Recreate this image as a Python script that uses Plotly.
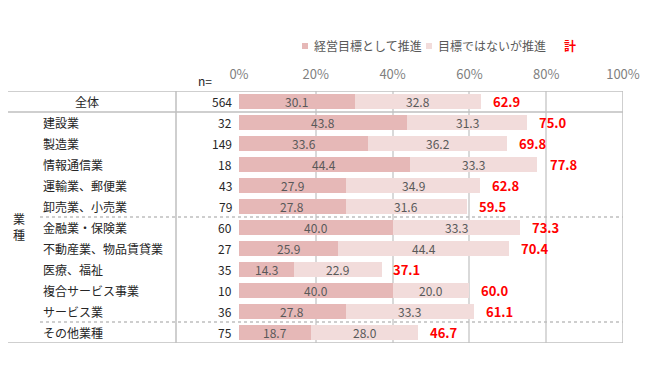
import plotly.graph_objects as go

categories = ["全体", "建設業", "製造業", "情報通信業", "運輸業、郵便業", "卸売業、小売業",
              "金融業・保険業", "不動産業、物品賃貸業", "医療、福祉", "複合サービス事業",
              "サービス業", "その他業種"]
n_values = [564, 32, 149, 18, 43, 79, 60, 27, 35, 10, 36, 75]
goal_values = [30.1, 43.8, 33.6, 44.4, 27.9, 27.8, 40.0, 25.9, 14.3, 40.0, 27.8, 18.7]
nongoal_values = [32.8, 31.3, 36.2, 33.3, 34.9, 31.6, 33.3, 44.4, 22.9, 20.0, 33.3, 28.0]
total_values = [62.9, 75.0, 69.8, 77.8, 62.8, 59.5, 73.3, 70.4, 37.1, 60.0, 61.1, 46.7]
x_ticks = [0, 20, 40, 60, 80, 100]
x_tick_labels = ["0%", "20%", "40%", "60%", "80%", "100%"]
series_names = ["経営目標として推進", "目標ではないが推進"]
total_name = "計"
group_label = "業<br>種"

# page body has an 8px margin: figure is sized to fit inside the window
OFF = 8
W, H = 650 - 2 * OFF, 380 - 2 * OFF
def px(x):
    return (x - OFF) / W
def py(y):
    return 1 - (y - OFF) / H

FONT = "Noto Sans CJK JP, Meiryo, sans-serif"
C_DARK = "#e6b8b7"
C_LIGHT = "#f2dcdb"
GRID = "#d9d9d9"
LINE = "#bfbfbf"
TXT = "#595959"
LBL = "#262626"

fig = go.Figure()
fig.add_trace(go.Bar(
    y=categories, x=goal_values, orientation="h", name=series_names[0],
    marker=dict(color=C_DARK, line=dict(width=0)), textposition="none",
))
fig.add_trace(go.Bar(
    y=categories, x=nongoal_values, orientation="h", name=series_names[1],
    marker=dict(color=C_LIGHT, line=dict(width=0)), textposition="none",
))

annotations = []
# segment labels
for c, g, ng in zip(categories, goal_values, nongoal_values):
    annotations.append(dict(x=g / 2, y=c, xref="x", yref="y", text=f"{g:.1f}", showarrow=False,
                            xanchor="center", font=dict(family=FONT, size=12, color=TXT)))
    annotations.append(dict(x=g + ng / 2, y=c, xref="x", yref="y", text=f"{ng:.1f}", showarrow=False,
                            xanchor="center", font=dict(family=FONT, size=12, color=TXT)))
# totals
for c, t in zip(categories, total_values):
    annotations.append(dict(x=t, y=c, xref="x", yref="y", text=f"<b>{t:.1f}</b>",
                            showarrow=False, xanchor="left", xshift=10,
                            font=dict(family=FONT, size=13, color="#ff0000")))
# row labels
for i, c in enumerate(categories):
    if i == 0:
        annotations.append(dict(x=px(87), y=c, xref="paper", yref="y", text=c, showarrow=False,
                                xanchor="center", font=dict(family=FONT, size=12, color=LBL)))
    else:
        annotations.append(dict(x=px(41), y=c, xref="paper", yref="y", text=c, showarrow=False,
                                xanchor="left", font=dict(family=FONT, size=12, color=LBL)))
# n values
for c, nv in zip(categories, n_values):
    annotations.append(dict(x=px(234), y=c, xref="paper", yref="y", text=str(nv), showarrow=False,
                            xanchor="right", font=dict(family=FONT, size=12, color=LBL)))
annotations.append(dict(x=px(214), y=py(81), xref="paper", yref="paper", text="n=", showarrow=False,
                        xanchor="right", yanchor="middle", font=dict(family=FONT, size=12, color=LBL)))
# group label
annotations.append(dict(x=px(19), y=py(226), xref="paper", yref="paper", text=group_label,
                        showarrow=False, xanchor="center", yanchor="middle",
                        font=dict(family=FONT, size=12, color=LBL)))
# legend
annotations.append(dict(x=px(312), y=py(46), xref="paper", yref="paper", text=series_names[0],
                        showarrow=False, xanchor="left", yanchor="middle",
                        font=dict(family=FONT, size=12, color=TXT)))
annotations.append(dict(x=px(436), y=py(46), xref="paper", yref="paper", text=series_names[1],
                        showarrow=False, xanchor="left", yanchor="middle",
                        font=dict(family=FONT, size=12, color=TXT)))
annotations.append(dict(x=px(562), y=py(46), xref="paper", yref="paper", text=f"<b>{total_name}</b>",
                        showarrow=False, xanchor="left", yanchor="middle",
                        font=dict(family=FONT, size=12, color="#ff0000")))

shapes = []
shapes.append(dict(type="rect", xref="paper", yref="paper", x0=px(302), x1=px(308), y0=py(49), y1=py(43),
                   fillcolor=C_DARK, line=dict(width=0)))
shapes.append(dict(type="rect", xref="paper", yref="paper", x0=px(426), x1=px(432), y0=py(49), y1=py(43),
                   fillcolor=C_LIGHT, line=dict(width=0)))
# horizontal table lines
for yv in [-0.5, 0.5, 11.5]:
    shapes.append(dict(type="line", xref="paper", yref="y", x0=px(0), x1=px(623), y0=yv, y1=yv,
                       line=dict(color=LINE, width=1.5)))
for yv in [5.5, 10.5]:
    shapes.append(dict(type="line", xref="paper", yref="y", x0=px(40), x1=px(623), y0=yv, y1=yv,
                       line=dict(color=LINE, width=1.5, dash="dot")))
# vertical lines
shapes.append(dict(type="line", xref="paper", yref="y", x0=px(176), x1=px(176), y0=-0.5, y1=11.5,
                   line=dict(color=LINE, width=1.5)))
shapes.append(dict(type="line", xref="x", yref="y", x0=100, x1=100, y0=-0.5, y1=11.5,
                   line=dict(color=LINE, width=1.5)))

fig.update_layout(
    width=W, height=H, margin=dict(l=0, r=0, t=0, b=0),
    paper_bgcolor="white", plot_bgcolor="white",
    barmode="stack", bargap=0.33, showlegend=False,
    font=dict(family=FONT),
    annotations=annotations, shapes=shapes,
    xaxis=dict(domain=[px(239), px(623)], range=[0, 100], side="top",
               tickvals=x_ticks, ticktext=x_tick_labels, showgrid=True, gridcolor=GRID, gridwidth=1.5,
               zeroline=False, showline=False, ticks="", ticklabelstandoff=8,
               tickfont=dict(family=FONT, size=13, color="#7f7f7f"), automargin=False),
    yaxis=dict(domain=[py(343), py(91)], type="category", categoryarray=categories,
               range=[11.5, -0.5], showticklabels=False, showgrid=False, zeroline=False,
               ticks="", automargin=False),
)

fig.write_html("out.html")
